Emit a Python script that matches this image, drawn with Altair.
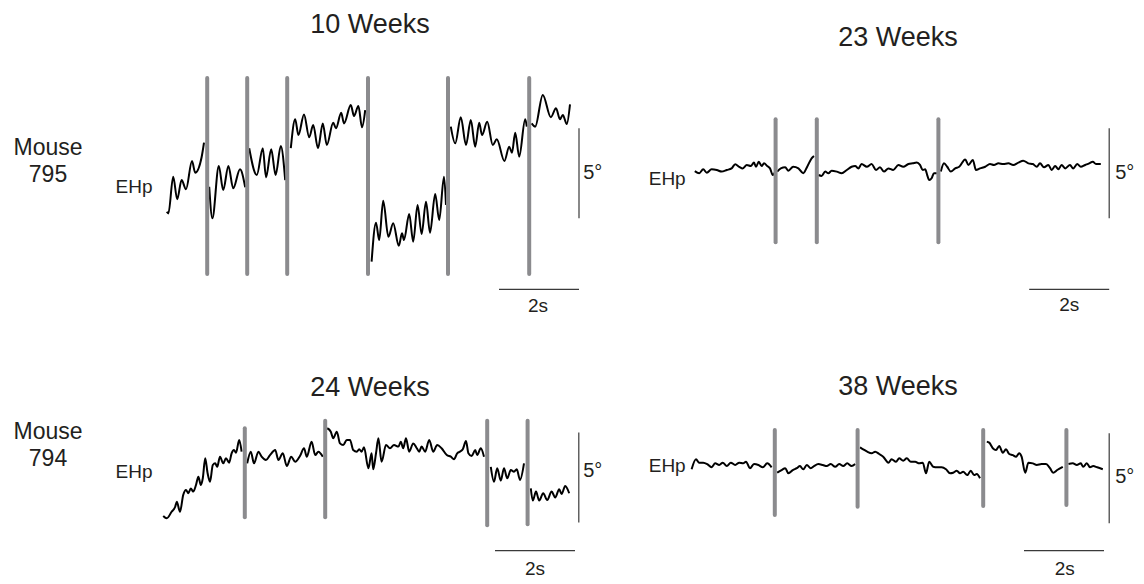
import altair as alt
import pandas as pd

FONT = "Arial, Liberation Sans, Helvetica, sans-serif"
INK = "#231f20"
GRAY = "#8b8b8e"

# ---------------- data (time in s, eye position in deg) ----------------
# Mouse 795, 10 weeks
W10_T = ([-0.03, 0.01, 0.13, 0.23, 0.34, 0.45, 0.60, 0.68, 0.84, 0.90]
         + [1.03, 1.11, 1.27, 1.38, 1.51, 1.63, 1.80, 1.93]
         + [2.03, 2.22, 2.37, 2.45, 2.58, 2.69, 2.82, 2.93]
         + [3.07, 3.18, 3.26, 3.40, 3.53, 3.63, 3.75, 3.87, 3.97, 4.13, 4.20, 4.33, 4.40, 4.57, 4.65, 4.76, 4.85, 4.93]
         + [5.09, 5.20, 5.28, 5.38, 5.51, 5.63, 5.77, 5.85, 5.90, 6.03, 6.13, 6.24, 6.34, 6.45, 6.55, 6.68, 6.78, 6.90, 6.95]
         + [7.07, 7.18, 7.32, 7.45, 7.57, 7.68, 7.78, 7.85, 7.98, 8.12, 8.22, 8.41, 8.53, 8.60, 8.68, 8.78, 8.93, 8.97]
         + [9.09, 9.18, 9.37, 9.57, 9.70, 9.80, 9.87, 9.97, 10.05])
W10_V = ([-1.32, -1.41, 0.63, -0.63, 0.44, -0.07, 1.50, 0.85, 1.71, 2.52]
         + [0.07, -1.68, 1.22, -0.11, 1.22, -0.02, 1.04, 0.04]
         + [2.21, 0.72, 2.21, 0.59, 2.15, 0.72, 2.33, 0.44]
         + [2.21, 3.82, 2.94, 4.09, 2.82, 3.50, 2.21, 3.59, 2.39, 3.63, 3.32, 4.18, 3.59, 4.61, 4.00, 4.56, 3.37, 4.33]
         + [-4.09, -1.93, -2.89, -0.71, -2.71, -1.96, -3.21, -2.52, -2.89, -1.44, -2.98, -0.94, -2.56, -0.76, -2.48, -0.33, -1.78, 0.63, -0.94]
         + [3.41, 2.48, 3.93, 2.39, 3.78, 2.29, 3.63, 2.94, 3.68, 2.39, 2.71, 1.50, 2.29, 1.96, 3.07, 1.74, 3.82, 3.41]
         + [3.59, 3.41, 5.17, 3.93, 4.43, 3.82, 4.06, 3.56, 4.65])
W10_SAC = [0.98, 1.98, 2.98, 5.00, 7.00, 9.03]
W10_SAC_TOP = [6.11] * 6
W10_SAC_BOT = [-4.78] * 6

# Mouse 795, 23 weeks
W23_T = ([-0.03, 0.08, 0.18, 0.27, 0.39, 0.52, 0.64, 0.77, 0.89, 0.98, 1.08, 1.17, 1.27, 1.37, 1.45, 1.50, 1.57, 1.64, 1.70, 1.78, 1.85, 1.92, 1.98]
         + [2.03, 2.12, 2.23, 2.31, 2.43, 2.56, 2.68, 2.78, 2.89, 2.95]
         + [3.06, 3.14, 3.23, 3.31, 3.39, 3.52, 3.64, 3.77, 3.89, 3.98, 4.06, 4.14, 4.27, 4.39, 4.50, 4.60, 4.70, 4.81, 4.93, 5.06,
            5.18, 5.31, 5.42, 5.52, 5.60, 5.67, 5.73, 5.78, 5.83, 5.89, 5.95, 6.02]
         + [6.12, 6.20, 6.28, 6.37, 6.48, 6.58, 6.73, 6.81, 6.92, 7.00, 7.10, 7.23, 7.35, 7.45, 7.56, 7.68, 7.81, 7.93, 8.06, 8.18,
            8.31, 8.42, 8.52, 8.60, 8.70, 8.81, 8.89, 8.98, 9.06, 9.14, 9.23, 9.35, 9.43, 9.53, 9.62, 9.73, 9.83, 9.92, 10.00, 10.12])
W23_V = ([0.94, 0.82, 1.04, 0.85, 1.04, 1.00, 0.91, 1.00, 1.09, 1.32, 1.18, 1.09, 1.28, 1.22, 1.41, 1.18, 1.46, 1.22, 1.37, 1.22, 1.09, 0.72, 0.91]
         + [0.91, 1.09, 1.15, 0.96, 1.18, 1.09, 0.82, 1.18, 1.65, 1.78]
         + [0.72, 0.67, 0.91, 0.82, 0.96, 0.91, 0.82, 1.00, 1.18, 1.22, 1.09, 1.33, 1.18, 1.33, 1.00, 1.15, 0.91, 1.09, 1.00, 1.28,
            1.18, 1.33, 1.37, 1.41, 1.28, 1.00, 1.04, 0.72, 0.44, 0.54, 0.82, 0.82]
         + [0.91, 1.37, 1.18, 0.91, 1.09, 1.18, 1.59, 1.28, 1.56, 1.00, 1.09, 1.18, 1.33, 1.28, 1.37, 1.33, 1.37, 1.28, 1.41, 1.52,
            1.37, 1.33, 1.18, 1.37, 1.15, 1.28, 1.00, 1.22, 1.04, 1.28, 1.09, 1.28, 1.09, 1.33, 1.18, 1.28, 1.37, 1.46, 1.33, 1.33])
W23_SAC = [1.99, 3.02, 6.06]
W23_SAC_TOP = [3.82] * 3
W23_SAC_BOT = [-3.02] * 3

# Mouse 794, 24 weeks
W24_T = ([-0.12, -0.03, 0.09, 0.18, 0.22, 0.30, 0.38, 0.45, 0.51, 0.57, 0.63, 0.70, 0.76, 0.82, 0.87, 0.93, 0.99, 1.05, 1.12, 1.18,
          1.23, 1.30, 1.38, 1.45, 1.53, 1.59, 1.65, 1.70, 1.78, 1.84]
         + [1.98, 2.07, 2.15, 2.26, 2.34, 2.45, 2.55, 2.68, 2.76, 2.87, 2.97, 3.08, 3.18, 3.30, 3.40, 3.47, 3.59, 3.68, 3.76, 3.87]
         + [3.98, 4.07, 4.13, 4.22, 4.30, 4.38, 4.47, 4.55, 4.63, 4.72, 4.78, 4.84, 4.90, 5.01, 5.09, 5.13, 5.20, 5.26, 5.34, 5.45,
            5.55, 5.65, 5.76, 5.82, 5.88, 5.95, 6.03, 6.13, 6.22, 6.28, 6.34, 6.43, 6.53, 6.63, 6.73, 6.84, 6.97, 7.07, 7.15, 7.23,
            7.30, 7.37, 7.45, 7.51, 7.59, 7.68, 7.73, 7.82, 7.90]
         + [8.07, 8.15, 8.23, 8.32, 8.40, 8.48, 8.57, 8.65, 8.72, 8.80, 8.90]
         + [9.07, 9.12, 9.20, 9.28, 9.38, 9.48, 9.59, 9.68, 9.78, 9.84, 9.93, 10.03])
W24_V = ([-2.44, -2.57, -2.21, -1.93, -1.65, -2.21, -1.28, -1.00, -1.18, -0.91, -1.09, -0.72, -0.26, -0.72, -0.35, 0.76, -0.07, -0.54, 0.39, 0.48,
          0.29, 0.85, 0.48, 0.76, 0.52, 1.04, 1.22, 1.07, 1.78, 1.13]
         + [0.48, 1.13, 0.48, 1.13, 0.85, 0.67, 0.94, 1.22, 0.67, 1.04, 0.33, 0.85, 0.57, 0.89, 1.32, 0.85, 1.68, 0.94, 1.13, 0.85]
         + [2.43, 2.24, 1.87, 2.24, 1.59, 1.50, 1.78, 1.78, 1.22, 1.13, 1.26, 1.13, 1.37, 0.21, 1.04, 0.15, 1.04, 1.87, 0.57, 1.50,
            1.32, 1.50, 1.41, 1.68, 1.32, 1.87, 1.13, 1.59, 1.32, 1.13, 1.41, 1.13, 1.78, 1.13, 1.50, 1.32, 0.94, 0.85, 0.71, 1.04,
            1.13, 1.26, 1.72, 1.04, 0.89, 1.22, 0.94, 1.32, 0.85]
         + [0.29, -0.54, 0.21, -0.48, 0.21, -0.35, 0.11, 0.02, 0.15, -0.44, 0.48]
         + [-0.91, -1.59, -1.09, -1.59, -1.18, -1.56, -1.09, -1.41, -0.96, -1.22, -0.78, -1.18])
W24_SAC = [1.92, 3.93, 7.98, 8.99]
W24_SAC_TOP = [2.43, 2.85, 2.85, 2.85]
W24_SAC_BOT = [-2.52, -2.52, -2.96, -2.90]

# Mouse 794, 38 weeks
W38_T = ([-0.11, 0.00, 0.08, 0.18, 0.28, 0.39, 0.48, 0.58, 0.67, 0.77, 0.87, 0.98, 1.08, 1.18, 1.25, 1.35, 1.45, 1.56, 1.67, 1.78, 1.89]
         + [2.03, 2.14, 2.23, 2.31, 2.42, 2.52, 2.60, 2.68, 2.77, 2.87, 2.95, 3.06, 3.17, 3.27, 3.37, 3.48, 3.58, 3.68, 3.78, 3.89, 3.98]
         + [4.10, 4.18, 4.28, 4.39, 4.48, 4.58, 4.68, 4.81, 4.89, 5.00, 5.08, 5.18, 5.27, 5.37, 5.48, 5.58, 5.67, 5.75, 5.83, 5.93,
            6.03, 6.14, 6.25, 6.35, 6.43, 6.52, 6.60, 6.68, 6.78, 6.87, 6.95, 7.02, 7.10]
         + [7.27, 7.33, 7.42, 7.50, 7.58, 7.67, 7.75, 7.83, 7.92, 8.00, 8.08, 8.14, 8.23, 8.31, 8.42, 8.52, 8.64, 8.75, 8.85, 8.93, 9.03, 9.17]
         + [9.31, 9.42, 9.52, 9.62, 9.68, 9.77, 9.85, 9.93, 10.03, 10.17])
W38_V = ([0.15, 0.71, 0.52, 0.52, 0.44, 0.26, 0.48, 0.39, 0.52, 0.33, 0.52, 0.39, 0.52, 0.48, 0.57, 0.21, 0.44, 0.39, 0.26, 0.48, 0.26]
         + [-0.04, 0.11, 0.21, -0.07, 0.11, 0.21, 0.33, 0.15, 0.39, 0.21, 0.33, 0.44, 0.39, 0.33, 0.44, 0.29, 0.44, 0.33, 0.48, 0.33, 0.44]
         + [1.37, 1.26, 1.13, 1.04, 1.13, 1.00, 0.85, 0.52, 0.71, 0.57, 0.76, 0.63, 0.76, 0.57, 0.57, 0.48, 0.52, -0.07, 0.57, 0.29,
            0.26, 0.26, 0.15, -0.07, -0.04, 0.07, -0.07, 0.02, -0.17, 0.07, -0.17, -0.11, -0.35]
         + [1.68, 1.63, 1.32, 1.22, 1.44, 1.07, 1.26, 1.00, 0.94, 0.85, 1.04, 0.85, -0.04, 0.52, 0.48, 0.39, 0.44, 0.44, 0.21, -0.04, 0.11, 0.29]
         + [0.44, 0.48, 0.39, 0.48, 0.29, 0.48, 0.26, 0.33, 0.26, 0.15])
W38_SAC = [1.97, 4.04, 7.18, 9.26]
W38_SAC_TOP = [2.33] * 4
W38_SAC_BOT = [-2.39, -1.93, -1.89, -1.83]

TITLES = ["10 Weeks", "23 Weeks", "24 Weeks", "38 Weeks"]
MICE = ["795", "794"]
TRACE_LABEL = "EHp"
TIME_BAR_S = 2
POS_BAR_DEG = 5


def panel(title, t, v, sac, sac_top, sac_bot, xdom, ydom, w, h, lay, mouse=None):
    X = lambda f: alt.X(f, scale=alt.Scale(domain=xdom, nice=False, zero=False), axis=None)
    Y = lambda f: alt.Y(f, scale=alt.Scale(domain=ydom, nice=False, zero=False), axis=None)

    seg = [sum(1 for s in sac if s < ti) for ti in t]
    tr = pd.DataFrame({"t": t, "v": v, "seg": seg})
    sc = pd.DataFrame({"t": sac, "top": sac_top, "bot": sac_bot})

    trace = alt.Chart(tr).mark_line(color="black", strokeWidth=2, interpolate="monotone").encode(
        x=X("t:Q"), y=Y("v:Q"), detail="seg:N")
    sacc = alt.Chart(sc).mark_rule(color=GRAY, strokeWidth=4, strokeCap="round").encode(
        x=X("t:Q"), y=Y("top:Q"), y2="bot:Q")

    bx, by = lay["vbar"]
    vbar = alt.Chart(pd.DataFrame({"t": [bx], "a": [by], "b": [by - POS_BAR_DEG]})).mark_rule(
        color="#3a3a3a", strokeWidth=1.2).encode(x=X("t:Q"), y=Y("a:Q"), y2="b:Q")
    hx, hy = lay["hbar"]
    hbar = alt.Chart(pd.DataFrame({"a": [hx - TIME_BAR_S], "b": [hx], "v": [hy]})).mark_rule(
        color="#3a3a3a", strokeWidth=1.2).encode(x=X("a:Q"), x2="b:Q", y=Y("v:Q"))

    def txt(label, pos, size, align="center"):
        return alt.Chart(pd.DataFrame({"t": [pos[0]], "v": [pos[1]], "label": [label]})).mark_text(
            font=FONT, fontSize=size, color=INK, align=align, baseline="middle").encode(
            x=X("t:Q"), y=Y("v:Q"), text="label:N")

    layers = [trace, sacc, vbar, hbar,
              txt(title, lay["title"], 27),
              txt(TRACE_LABEL, lay["ehp"], 19),
              txt(f"{TIME_BAR_S}s", lay["two"], 19),
              txt(f"{POS_BAR_DEG}°", lay["five"], 20, "left")]
    if mouse is not None:
        layers.append(txt("Mouse", lay["mouse"], 23))
        layers.append(txt(mouse, (lay["mouse"][0], lay["mouse"][1] - 1.5), 23))
    return alt.layer(*layers).properties(width=w, height=h)


LEFT_X = [-4.0, 11.0]
RIGHT_X = [-2.2, 11.0]
ROW1_Y = [-10.0, 10.0]
ROW2_Y = [-5.7778, 5.7778]

p1 = panel(TITLES[0], W10_T, W10_V, W10_SAC, W10_SAC_TOP, W10_SAC_BOT, LEFT_X, ROW1_Y, 600, 360,
           dict(vbar=(10.275, 3.32), hbar=(10.275, -5.63), title=(5.05, 9.06), ehp=(-0.85, 0.05),
                two=(9.25, -6.55), five=(10.38, 0.83), mouse=(-3.0, 2.22)), mouse=MICE[0])
p2 = panel(TITLES[1], W23_T, W23_V, W23_SAC, W23_SAC_TOP, W23_SAC_BOT, RIGHT_X, ROW1_Y, 528, 360,
           dict(vbar=(10.33, 3.32), hbar=(10.33, -5.63), title=(5.05, 8.33), ehp=(-0.72, 0.5),
                two=(9.33, -6.48), five=(10.48, 0.83)))
p3 = panel(TITLES[2], W24_T, W24_V, W24_SAC, W24_SAC_TOP, W24_SAC_BOT, LEFT_X, ROW2_Y, 600, 208,
           dict(vbar=(10.27, 2.2), hbar=(10.175, -4.37), title=(5.05, 4.67), ehp=(-0.85, 0.02),
                two=(9.175, -5.41), five=(10.38, 0.06), mouse=(-3.0, 2.24)), mouse=MICE[1])
p4 = panel(TITLES[3], W38_T, W38_V, W38_SAC, W38_SAC_TOP, W38_SAC_BOT, RIGHT_X, ROW2_Y, 528, 208,
           dict(vbar=(10.33, 2.15), hbar=(10.2, -4.37), title=(5.05, 4.72), ehp=(-0.72, 0.35),
                two=(9.22, -5.41), five=(10.48, -0.28)))

chart = alt.concat(p1, p2, p3, p4, columns=2, spacing=0, bounds="flush", align="each").properties(
    padding=0, background="white").configure_view(stroke=None)

chart.save("out.html", embed_options={"renderer": "svg", "actions": False})
